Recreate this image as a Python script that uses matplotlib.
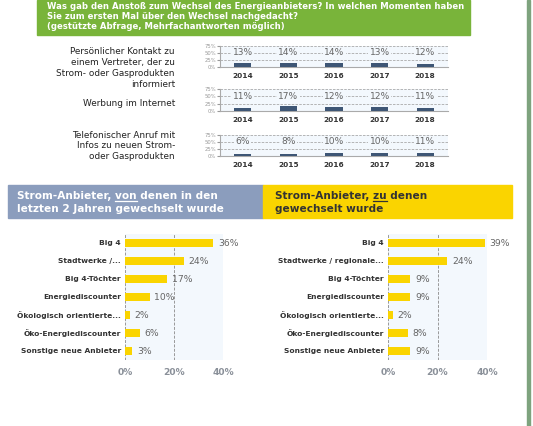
import matplotlib
matplotlib.use('Agg')
from matplotlib import pyplot
from matplotlib.patches import Rectangle
from matplotlib.lines import Line2D

W, H = 533, 426

# Data.
years = ['2014', '2015', '2016', '2017', '2018']
trigger_labels = ['Persönlicher Kontakt zu\neinem Vertreter, der zu\nStrom- oder Gasprodukten\ninformiert',
                  'Werbung im Internet',
                  'Telefonischer Anruf mit\nInfos zu neuen Strom-\noder Gasprodukten']
kontakt = [13, 14, 14, 13, 12]
werbung = [11, 17, 12, 12, 11]
anruf = [6, 8, 10, 10, 11]

from_labels = ['Big 4', 'Stadtwerke /...', 'Big 4-Töchter', 'Energiediscounter',
               'Ökologisch orientierte...', 'Öko-Energiediscounter', 'Sonstige neue Anbieter']
from_values = [36, 24, 17, 10, 2, 6, 3]
to_labels = ['Big 4', 'Stadtwerke / regionale...', 'Big 4-Töchter', 'Energiediscounter',
             'Ökologisch orientierte...', 'Öko-Energiediscounter', 'Sonstige neue Anbieter']
to_values = [39, 24, 9, 9, 2, 8, 9]

green = '#79b43a'
slate = '#8b9dbd'
yellow = '#fad400'
bar_dark = '#3e5675'
plot_bg = '#f3f8fd'
grey_text = '#666666'


def rect(x0, y0, x1, y1):
    """Pixel box (top-left origin) to figure fraction."""
    return [x0 / W, 1 - y1 / H, (x1 - x0) / W, (y1 - y0) / H]


def fx(x):
    return x / W


def fy(y):
    return 1 - y / H


fig = pyplot.figure(figsize=(W / 100, H / 100), dpi=100)
fig.patch.set_facecolor('white')

# Title box
fig.add_artist(Rectangle((fx(37), fy(35)), (470 - 37) / W, 35 / H,
                         transform=fig.transFigure, color=green, zorder=0))
fig.text(fx(47), fy(2),
         'Was gab den Anstoß zum Wechsel des Energieanbieters? In welchen Momenten haben\n'
         'Sie zum ersten Mal über den Wechsel nachgedacht?\n'
         '(gestützte Abfrage, Mehrfachantworten möglich)',
         color='white', fontsize=6.1, fontweight='bold', va='top', ha='left',
         linespacing=1.15)

# Right green border line
fig.add_artist(Rectangle((fx(526.5), 0), 3 / W, 1, transform=fig.transFigure,
                         color='#7ea37e', zorder=0))

# Small yearly charts
rows = [(46, 67, kontakt, 68), (89, 111, werbung, 103), (135, 156, anruf, 146)]
for (top, bottom, vals, label_y), label in zip(rows, trigger_labels):
    ax = fig.add_axes(rect(220, top, 448, bottom))
    ax.set_facecolor(plot_bg)
    x = range(len(years))
    ax.bar(x, vals, width=0.38, color=bar_dark, zorder=3)
    ax.set_ylim(0, 75)
    ax.set_xlim(-0.5, 4.5)
    ax.set_yticks([0, 25, 50, 75])
    ax.set_yticklabels(['0%', '25%', '50%', '75%'])
    ax.tick_params(axis='y', labelsize=3.8, labelcolor='#999999', length=2, color='#999999', pad=1)
    ax.set_xticks(list(x))
    ax.set_xticklabels(years, fontweight='bold', fontsize=5.3, color='#333333')
    ax.tick_params(axis='x', length=0, pad=4)
    for yv in (25, 50, 75):
        ax.axhline(yv, color='#aaaaaa', linestyle=(0, (3, 1.5)), linewidth=0.6, zorder=1)
    for s in ('top', 'right'):
        ax.spines[s].set_visible(False)
    for s in ('left', 'bottom'):
        ax.spines[s].set_color('#aaaaaa')
        ax.spines[s].set_linewidth(0.8)
    for xi, v in zip(x, vals):
        ax.text(xi, 50, f'{v}%', ha='center', va='center', fontsize=6.6, color=grey_text,
                zorder=4, bbox=dict(facecolor=plot_bg, edgecolor='none', pad=1.0))
    fig.text(fx(175), fy(label_y), label, ha='right', va='center', fontsize=6.4,
             color='#222222', linespacing=1.25)

# Section headers
fig.add_artist(Rectangle((fx(8), fy(218)), (263 - 8) / W, (218 - 185) / H,
                         transform=fig.transFigure, color=slate, zorder=0))
fig.add_artist(Rectangle((fx(263), fy(218)), (512 - 263) / W, (218 - 185) / H,
                         transform=fig.transFigure, color=yellow, zorder=0))

renderer = fig.canvas.get_renderer()


def header(x, y_line1, line1, line2, under, color):
    props = dict(fontsize=7.6, fontweight='bold', color=color, va='baseline', ha='left')
    fig.text(fx(x), fy(y_line1), line1, **props)
    fig.text(fx(x), fy(y_line1 + 13), line2, **props)
    # underline the key word of the first line
    idx = line1.index(under) + len(under)
    t_full = fig.text(fx(x), fy(y_line1), line1[:idx], alpha=0, **props)
    t_word = fig.text(fx(x), fy(y_line1), under, alpha=0, **props)
    end = t_full.get_window_extent(renderer).x1
    width = t_word.get_window_extent(renderer).width
    yl = fy(y_line1 + 2)
    fig.add_artist(Line2D([(end - width) / W, end / W], [yl, yl], transform=fig.transFigure,
                          color=color, linewidth=0.9))


header(17, 199, 'Strom-Anbieter, von denen in den', 'letzten 2 Jahren gewechselt wurde', 'von', 'white')
header(275, 199, 'Strom-Anbieter, zu denen', 'gewechselt wurde', 'zu', '#333333')


def hbar(x0, x1, labels, values):
    ax = fig.add_axes(rect(x0, 234, x1, 360))
    ax.set_facecolor(plot_bg)
    y = range(len(labels))
    ax.barh(y, values, height=0.45, color=yellow, zorder=3)
    ax.set_xlim(0, 40)
    ax.set_ylim(len(labels) - 0.5, -0.5)
    ax.set_yticks(list(y))
    ax.set_yticklabels(labels, fontweight='bold', fontsize=5.4, color='#333333')
    ax.tick_params(axis='y', length=0, pad=3)
    ax.set_xticks([0, 20, 40])
    ax.set_xticklabels(['0%', '20%', '40%'], fontweight='bold', fontsize=6.6, color='#8a9099')
    ax.tick_params(axis='x', length=0, pad=6)
    for s in ax.spines.values():
        s.set_visible(False)
    for xv in (0, 20, 40):
        ax.axvline(xv, color='#999999', linestyle=(0, (3, 1.5)), linewidth=0.7, zorder=1)
    for yi, v in zip(y, values):
        ax.annotate(f'{v}%', (v, yi), xytext=(3.5, 0), textcoords='offset points',
                    ha='left', va='center', fontsize=6.7, color=grey_text,
                    annotation_clip=False, zorder=4)


hbar(125, 223, from_labels, from_values)
hbar(388, 487, to_labels, to_values)

fig.savefig('out.png', dpi=100)
